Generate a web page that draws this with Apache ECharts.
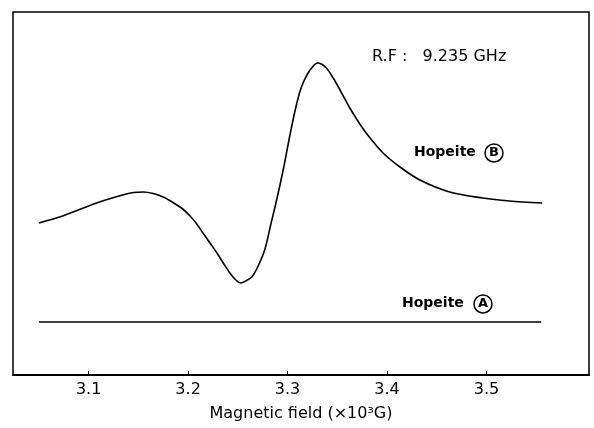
<!DOCTYPE html>
<html>
<head>
<meta charset="utf-8">
<script src="https://cdn.jsdelivr.net/npm/echarts@6/dist/echarts.min.js"></script>
<style>
  html, body { margin: 0; padding: 0; background: #fff; }
  #chart { width: 594px; height: 428px; }
</style>
</head>
<body>
<div id="chart"></div>
<script>
// ESR spectra of hopeite (intensity in arbitrary units)
const fieldB = [3.050, 3.074, 3.108, 3.134, 3.145, 3.155, 3.165, 3.175, 3.184, 3.194, 3.2015, 3.208, 3.215, 3.222, 3.229, 3.236, 3.242,
  3.248, 3.253, 3.258, 3.264, 3.269, 3.277, 3.283, 3.289, 3.296, 3.302, 3.307, 3.312, 3.316, 3.320, 3.325, 3.330,
  3.334, 3.339, 3.344, 3.350, 3.356, 3.362, 3.370, 3.379, 3.396, 3.413, 3.433, 3.463, 3.496, 3.523, 3.556];
const intensityB = [152, 159, 172, 180, 182.5, 183, 181.5, 178, 173, 166.5, 159.5, 152, 142, 132, 122, 111, 102,
  95, 92, 94, 98, 106, 125, 150, 175, 207, 238, 262, 282, 293, 301, 308, 312,
  311, 307, 300, 290, 279, 268, 255, 242, 222, 208, 195, 183, 177, 174, 172];
const fieldA = [3.050, 3.555];
const intensityA = [53, 53];
const xTicks = [3.1, 3.2, 3.3, 3.4, 3.5];

const font = "DejaVu Sans";
const chart = echarts.init(document.getElementById("chart"));

const option = {
  animation: false,
  grid: {
    left: 13, right: 5, top: 12, bottom: 53,
    show: true, borderColor: "#000", borderWidth: 1.5
  },
  xAxis: {
    type: "value",
    min: 3.024,
    max: 3.603,
    name: "Magnetic field (×10³G)",
    nameLocation: "middle",
    nameGap: 31,
    nameTextStyle: { color: "#000", fontFamily: font, fontSize: 16 },
    axisLine: { lineStyle: { color: "#000", width: 2 } },
    axisTick: { inside: true, length: 4, customValues: xTicks, lineStyle: { color: "#000" } },
    splitLine: { show: false },
    axisLabel: {
      color: "#000", fontFamily: font, fontSize: 16, margin: 7,
      customValues: xTicks,
      formatter: v => v.toFixed(1)
    }
  },
  yAxis: {
    type: "value", min: 0, max: 363, show: false
  },
  series: [
    {
      name: "Hopeite B",
      type: "line",
      data: fieldB.map((f, i) => [f, intensityB[i]]),
      smooth: 0.3,
      showSymbol: false,
      lineStyle: { color: "#000", width: 1.6 }
    },
    {
      name: "Hopeite A",
      type: "line",
      data: fieldA.map((f, i) => [f, intensityA[i]]),
      showSymbol: false,
      lineStyle: { color: "#000", width: 1.4 }
    }
  ],
  graphic: [
    { type: "text", left: 372, top: 49, style: { text: "R.F :   9.235 GHz", font: "16px " + font, fill: "#000" } },
    { type: "text", left: 414, top: 145, style: { text: "Hopeite", font: "bold 14px " + font, fill: "#000" } },
    { type: "circle", shape: { cx: 494, cy: 153, r: 9 }, style: { fill: "none", stroke: "#000", lineWidth: 1.5 } },
    { type: "text", x: 494, y: 153, style: { text: "B", font: "bold 13px " + font, fill: "#000", align: "center", verticalAlign: "middle" } },
    { type: "text", left: 402, top: 296, style: { text: "Hopeite", font: "bold 14px " + font, fill: "#000" } },
    { type: "circle", shape: { cx: 483, cy: 304, r: 9 }, style: { fill: "none", stroke: "#000", lineWidth: 1.5 } },
    { type: "text", x: 483, y: 304, style: { text: "A", font: "bold 13px " + font, fill: "#000", align: "center", verticalAlign: "middle" } }
  ]
};

chart.setOption(option);
</script>
</body>
</html>
